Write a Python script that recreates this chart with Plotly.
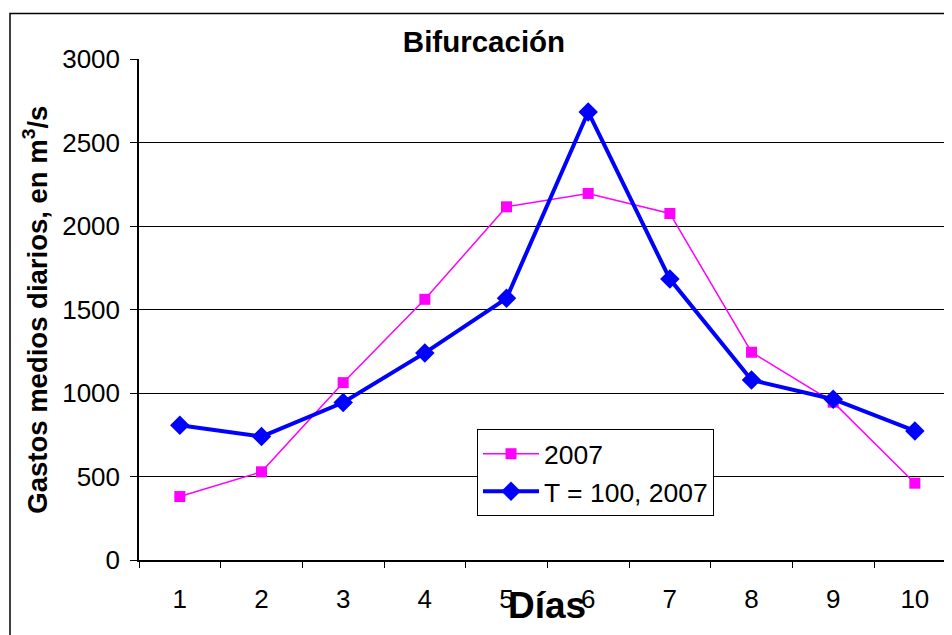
import plotly.graph_objects as go

dias = ["1", "2", "3", "4", "5", "6", "7", "8", "9", "10"]
serie_2007 = [380, 528, 1062, 1561, 2115, 2195, 2075, 1244, 945, 460]
serie_t100 = [807, 739, 943, 1240, 1567, 2683, 1682, 1078, 963, 773]
y_ticks = [0, 500, 1000, 1500, 2000, 2500, 3000]

# page has an 8px body margin; figure sized to fill the 952x635 window
OFF = 8
W, H = 952 - OFF, 635 - OFF
PLOT_LEFT, PLOT_TOP, PLOT_BOTTOM = 139, 59.3, 560.3   # page pixels
L = PLOT_LEFT - OFF
T = PLOT_TOP - OFF
B = 635 - PLOT_BOTTOM
pw = W - L
ph = H - T - B

def px_x(p):
    return (p - PLOT_LEFT) / pw

def px_y(p):
    return (PLOT_BOTTOM - p) / ph

FONT = "Arial, Liberation Sans, sans-serif"

fig = go.Figure()
fig.add_trace(go.Scatter(
    x=dias, y=serie_2007, name="2007", mode="lines+markers",
    line=dict(color="#FF00FF", width=1.5),
    marker=dict(symbol="square", size=11, color="#FF00FF"),
))
fig.add_trace(go.Scatter(
    x=dias, y=serie_t100, name="T = 100, 2007", mode="lines+markers",
    line=dict(color="#0000FF", width=4),
    marker=dict(symbol="diamond", size=15, color="#0000FF"),
))

fig.update_layout(
    width=W, height=H,
    margin=dict(l=L, r=0, t=T, b=B, autoexpand=False),
    paper_bgcolor="white", plot_bgcolor="white",
    font=dict(family=FONT, size=26, color="black"),
    showlegend=True,
    legend=dict(
        x=px_x(477), y=px_y(429.3), xanchor="left", yanchor="top",
        bgcolor="white", bordercolor="black", borderwidth=1,
        font=dict(family=FONT, size=26.5, color="black"),
        itemwidth=56, tracegroupgap=0,
    ),
    title=dict(
        text="<b>Bifurcación</b>", x=(484 - OFF) / W, xref="container", xanchor="center",
        y=1 - (42 - OFF) / H, yref="container", yanchor="middle",
        font=dict(family=FONT, size=29.5, color="black"),
    ),
)

fig.update_xaxes(
    type="category", range=[-0.5, -0.5 + pw / 81.67],
    showline=True, linecolor="black", linewidth=1.5,
    ticks="outside", tickson="boundaries", ticklen=6, tickcolor="black", tickwidth=1,
    showgrid=False, zeroline=False,
    tickfont=dict(family=FONT, size=26, color="black"),
    ticklabelstandoff=15,
)
fig.update_yaxes(
    range=[0, 3000], tickvals=y_ticks, ticktext=[str(v) for v in y_ticks],
    showline=True, linecolor="black", linewidth=1.5,
    ticks="outside", ticklen=7, tickcolor="black", tickwidth=1,
    showgrid=True, gridcolor="black", gridwidth=1, zeroline=False,
    tickfont=dict(family=FONT, size=26, color="black"),
    ticklabelstandoff=5,
)

# y-axis title
fig.add_annotation(
    text="<b>Gastos medios diarios, en m<sup>3</sup>/s</b>", textangle=-90,
    xref="paper", yref="paper", x=px_x(36), y=px_y(310),
    xanchor="center", yanchor="middle", showarrow=False,
    font=dict(family=FONT, size=27.5, color="black"),
)
# x-axis title
fig.add_annotation(
    text="<b>Días</b>",
    xref="paper", yref="paper", x=px_x(547), y=px_y(606),
    xanchor="center", yanchor="middle", showarrow=False,
    font=dict(family=FONT, size=37, color="black"),
)

# outer chart border
fig.add_shape(
    type="rect", xref="paper", yref="paper",
    x0=px_x(10), x1=px_x(975),
    y0=px_y(660), y1=px_y(13.7),
    line=dict(color="black", width=1.5), layer="below",
)

fig.write_html("out.html")
